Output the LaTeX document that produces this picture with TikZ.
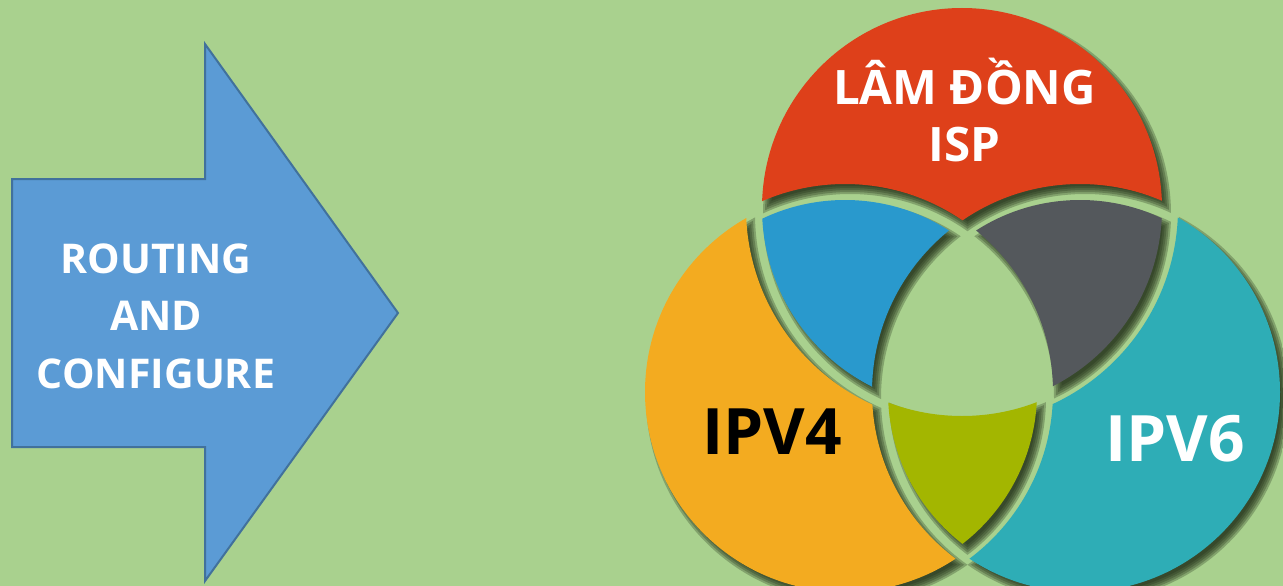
\documentclass[tikz,border=0pt]{standalone}
\usepackage{fontspec}
\setmainfont{Open Sans}
\definecolor{bg}{HTML}{A9D18E}
\definecolor{arrowfill}{HTML}{5B9BD5}
\definecolor{arrowline}{HTML}{41719C}
\definecolor{cred}{HTML}{DE401A}
\definecolor{corange}{HTML}{F3AB20}
\definecolor{cteal}{HTML}{2EADB6}
\definecolor{cblue}{HTML}{2999CD}
\definecolor{cgray}{HTML}{54585C}
\definecolor{colive}{HTML}{A3B600}
\definecolor{shadowc}{HTML}{1E2A14}
\def\sx{0}\def\sy{0}
% circle centres
\def\Ax{962}\def\Ay{208}
\def\Bx{845}\def\By{392}
\def\Cx{1080}\def\Cy{392}
\newcommand\cin[4]{\clip ({#1+\sx},{#2+\sy}) circle[radius={#3+(#4)}];}
\newcommand\cout[4]{\clip ({#1+\sx},{#2+\sy}) circle[radius={#3-(#4)}] (-300,-300) -- (-300,900) -- (1600,900) -- (1600,-300) -- cycle;}
\newcommand\redP[1]{\cin\Ax\Ay{200}{#1}\cout\Bx\By{208}{#1}\cout\Cx\Cy{208}{#1}}
\newcommand\orangeP[1]{\cin\Bx\By{200}{#1}\cout\Ax\Ay{216}{#1}\cout\Cx\Cy{208}{#1}}
\newcommand\tealP[1]{\cin\Cx\Cy{200}{#1}\cout\Ax\Ay{216}{#1}\cout\Bx\By{208}{#1}}
\newcommand\blueP[1]{\cin\Ax\Ay{200}{#1}\cin\Bx\By{192}{#1}\cout\Cx\Cy{208}{#1}}
\newcommand\grayP[1]{\cin\Ax\Ay{200}{#1}\cin\Cx\Cy{192}{#1}\cout\Bx\By{208}{#1}}
\newcommand\oliveP[1]{\cin\Bx\By{192}{#1}\cin\Cx\Cy{192}{#1}\cout\Ax\Ay{208}{#1}}
\tikzset{
  lbl/.style={anchor=base, inner sep=0pt, font=\bfseries\fontsize{41}{50}\selectfont, text=white},
  big/.style={anchor=base, inner sep=0pt, font=\bfseries\fontsize{64}{70}\selectfont},
}
\begin{document}
\begin{tikzpicture}[x=1pt,y=-1pt,even odd rule]
\useasboundingbox (0,0) rectangle (1283,586);
\fill[bg] (0,0) rectangle (1283,586);
% arrow
\coordinate (t1) at (12,179);
\coordinate (s1) at (205,179);
\coordinate (h1) at (205,44);
\coordinate (tip) at (398,313);
\coordinate (h2) at (205,581);
\coordinate (s2) at (205,447);
\coordinate (t2) at (12,447);
\draw[arrowline, line width=2, fill=arrowfill, line join=miter] (t1) -- (s1) -- (h1) -- (tip) -- (h2) -- (s2) -- (t2) -- cycle;
\node[lbl] (r1) at (156,273) {ROUTING};
\node[lbl] (r2) at (156,330.5) {AND};
\node[lbl] (r3) at (156,388) {CONFIGURE};
% shadows
\foreach \P in {\redP,\orangeP,\tealP,\blueP,\grayP,\oliveP}{
  \foreach \e in {4,2,0,-2,-4}{
    \begin{scope}
      \def\sx{5}\def\sy{6}
      \P{\e}
      \fill[shadowc, opacity=0.28] (-10,-10) rectangle (1300,600);
    \end{scope}
  }
}
% pieces
\begin{scope}\redP{0}\fill[cred] (-10,-10) rectangle (1300,600);\end{scope}
\begin{scope}\orangeP{0}\fill[corange] (-10,-10) rectangle (1300,600);\end{scope}
\begin{scope}\tealP{0}\fill[cteal] (-10,-10) rectangle (1300,600);\end{scope}
\begin{scope}\blueP{0}\fill[cblue] (-10,-10) rectangle (1300,600);\end{scope}
\begin{scope}\grayP{0}\fill[cgray] (-10,-10) rectangle (1300,600);\end{scope}
\begin{scope}\oliveP{0}\fill[colive] (-10,-10) rectangle (1300,600);\end{scope}
% labels
\node[lbl, font=\bfseries\fontsize{47.5}{50}\selectfont] (isp1) at (964.5,104) {LÂM ĐỒNG};
\node[lbl, font=\bfseries\fontsize{47.5}{50}\selectfont] (isp2) at (964.5,161) {ISP};
\node[big, text=black] (ipv4) at (772,454) {IPV4};
\node[big, text=white] (ipv6) at (1175,461) {IPV6};
\end{tikzpicture}
\end{document}
